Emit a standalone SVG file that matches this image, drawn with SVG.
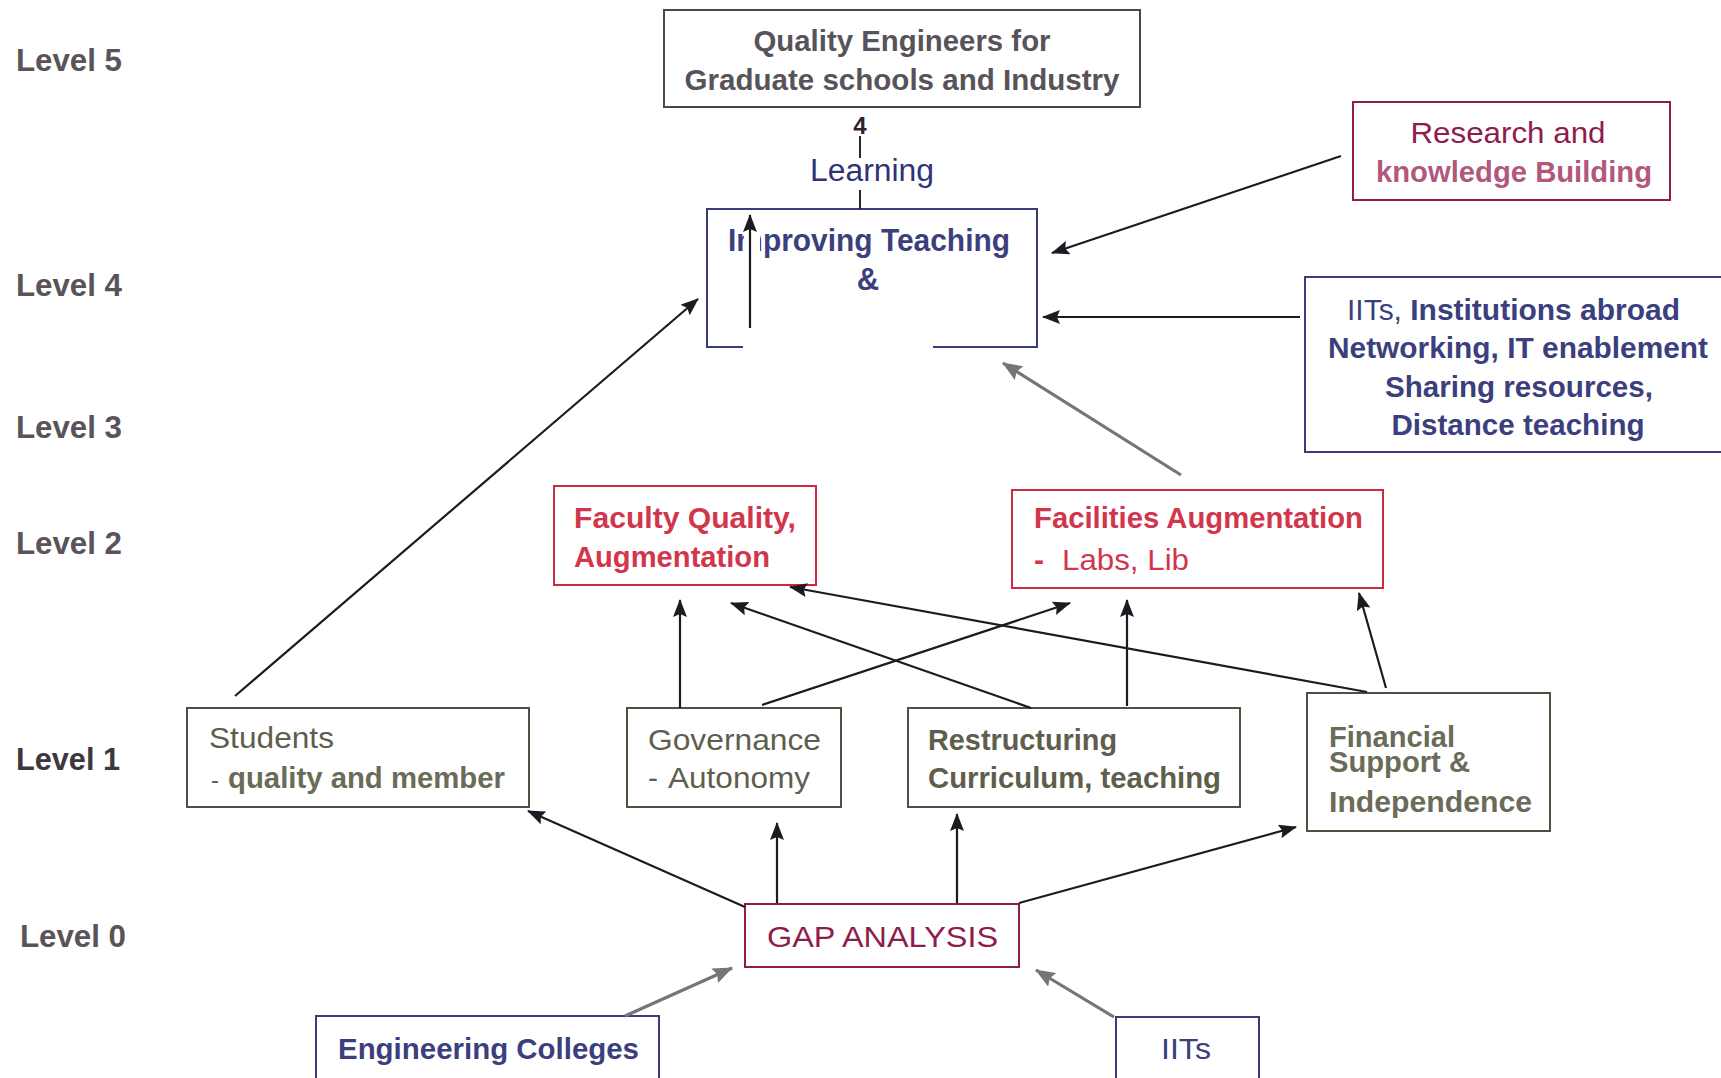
<svg xmlns="http://www.w3.org/2000/svg" width="1721" height="1078" viewBox="0 0 1721 1078">
<defs>
<style>
text{font-family:"Liberation Sans",Arial,sans-serif;font-size:30px}
.b{font-weight:bold}
.lvl{font-weight:bold;font-size:31px;fill:#5a535a}
.box{fill:none;stroke-width:2}
.navy{fill:#3c3f7e}
.olive{fill:#5e5e4c}
.red{fill:#d2364c}
.maroon{fill:#8e1c4c}
.arr{stroke:#1e1a22;stroke-width:2.2;fill:none;marker-end:url(#ah)}
.garr{stroke:#77737a;stroke-width:3.2;fill:none;marker-end:url(#gh)}
</style>
<marker id="ah" markerUnits="userSpaceOnUse" markerWidth="18" markerHeight="14" refX="17" refY="7" orient="auto">
<path d="M0,0 L18,7 L0,14 L3,7 z" fill="#1e1a22"/>
</marker>
<marker id="gh" markerUnits="userSpaceOnUse" markerWidth="20" markerHeight="16" refX="19" refY="8" orient="auto">
<path d="M0,0 L20,8 L0,16 L3,8 z" fill="#77737a"/>
</marker>
</defs>
<rect width="1721" height="1078" fill="#ffffff"/>

<g id="levels">
<text class="lvl" x="16" y="71" textLength="106" lengthAdjust="spacingAndGlyphs">Level 5</text>
<text class="lvl" x="16" y="296" textLength="106" lengthAdjust="spacingAndGlyphs">Level 4</text>
<text class="lvl" x="16" y="438" textLength="106" lengthAdjust="spacingAndGlyphs">Level 3</text>
<text class="lvl" x="16" y="554" textLength="106" lengthAdjust="spacingAndGlyphs">Level 2</text>
<text class="lvl" x="16" y="770" textLength="104" lengthAdjust="spacingAndGlyphs" style="fill:#3e383e">Level 1</text>
<text class="lvl" x="20" y="947" textLength="106" lengthAdjust="spacingAndGlyphs">Level 0</text>
</g>

<g id="quality-engineers">
<rect class="box" x="664" y="10" width="476" height="97" stroke="#4a474c"/>
<text class="b" x="902" y="51" text-anchor="middle" fill="#58535a" textLength="297" lengthAdjust="spacingAndGlyphs">Quality Engineers for</text>
<text class="b" x="902" y="90" text-anchor="middle" fill="#58535a" textLength="435" lengthAdjust="spacingAndGlyphs">Graduate schools and Industry</text>
</g>

<g id="learning-label">
<text class="b" x="860" y="134" text-anchor="middle" fill="#2a262c" style="font-size:24px">4</text>
<text class="navy" x="872" y="181" text-anchor="middle" textLength="124" lengthAdjust="spacingAndGlyphs" style="fill:#2f3378;font-size:31px">Learning</text>
</g>

<g id="improving-teaching">
<path class="box" d="M743,347 H707 V209 H1037 V347 H933" stroke="#3a3d7c"/>
<text class="b navy" x="728" y="251" textLength="282" lengthAdjust="spacingAndGlyphs" style="font-size:31px">Improving Teaching</text>
<text class="b navy" x="868" y="290" text-anchor="middle" style="font-size:31px">&amp;</text>
</g>

<g id="research">
<rect class="box" x="1353" y="102" width="317" height="98" stroke="#8e1c4c"/>
<text class="maroon" x="1508" y="143" text-anchor="middle" textLength="195" lengthAdjust="spacingAndGlyphs">Research and</text>
<text class="b" x="1514" y="182" text-anchor="middle" fill="#b0587e" textLength="276" lengthAdjust="spacingAndGlyphs">knowledge Building</text>
</g>

<g id="iits-networking">
<path class="box" d="M1721,277 H1305 V452 H1721" stroke="#3a3d7c"/>
<text class="navy" x="1347" y="320" textLength="333" lengthAdjust="spacingAndGlyphs">IITs, <tspan class="b">Institutions abroad</tspan></text>
<text class="b navy" x="1518" y="358" text-anchor="middle" textLength="380" lengthAdjust="spacingAndGlyphs">Networking, IT enablement</text>
<text class="b navy" x="1519" y="397" text-anchor="middle" textLength="268" lengthAdjust="spacingAndGlyphs">Sharing resources,</text>
<text class="b navy" x="1518" y="435" text-anchor="middle" textLength="253" lengthAdjust="spacingAndGlyphs">Distance teaching</text>
</g>

<g id="faculty-quality">
<rect class="box" x="554" y="486" width="262" height="99" stroke="#cc2a3e"/>
<text class="b red" x="574" y="528" textLength="222" lengthAdjust="spacingAndGlyphs">Faculty Quality,</text>
<text class="b red" x="574" y="567" textLength="196" lengthAdjust="spacingAndGlyphs">Augmentation</text>
</g>

<g id="facilities">
<rect class="box" x="1012" y="490" width="371" height="98" stroke="#cc2a3e"/>
<text class="b red" x="1034" y="528" textLength="329" lengthAdjust="spacingAndGlyphs">Facilities Augmentation</text>
<text class="b red" x="1034" y="570">-</text>
<text class="red" x="1062" y="570" textLength="127" lengthAdjust="spacingAndGlyphs">Labs, Lib</text>
</g>

<g id="students">
<rect class="box" x="187" y="708" width="342" height="99" stroke="#4e5040"/>
<text class="olive" x="209" y="748" textLength="125" lengthAdjust="spacingAndGlyphs">Students</text>
<text class="olive" x="211" y="788" style="font-size:24px">-</text>
<text class="b" x="228" y="788" fill="#6b6b5a" textLength="277" lengthAdjust="spacingAndGlyphs">quality and member</text>
</g>

<g id="governance">
<rect class="box" x="627" y="708" width="214" height="99" stroke="#4e5040"/>
<text class="olive" x="648" y="750" textLength="173" lengthAdjust="spacingAndGlyphs">Governance</text>
<text class="olive" x="648" y="788">-</text>
<text class="olive" x="668" y="788" textLength="142" lengthAdjust="spacingAndGlyphs">Autonomy</text>
</g>

<g id="restructuring">
<rect class="box" x="908" y="708" width="332" height="99" stroke="#4e5040"/>
<text class="b olive" x="928" y="750" textLength="189" lengthAdjust="spacingAndGlyphs">Restructuring</text>
<text class="b olive" x="928" y="788" textLength="293" lengthAdjust="spacingAndGlyphs">Curriculum, teaching</text>
</g>

<g id="financial">
<rect class="box" x="1307" y="693" width="243" height="138" stroke="#4e5040"/>
<text class="b" x="1329" y="747" fill="#6b6b5a" textLength="126" lengthAdjust="spacingAndGlyphs">Financial</text>
<text class="b" x="1329" y="772" fill="#6b6b5a" textLength="141" lengthAdjust="spacingAndGlyphs">Support &amp;</text>
<text class="b" x="1329" y="812" fill="#6b6b5a" textLength="203" lengthAdjust="spacingAndGlyphs">Independence</text>
</g>

<g id="gap-analysis">
<rect class="box" x="745" y="904" width="274" height="63" stroke="#8e1c4c"/>
<text class="maroon" x="767" y="947" textLength="231" lengthAdjust="spacingAndGlyphs">GAP ANALYSIS</text>
</g>

<g id="engineering-colleges">
<path class="box" d="M316,1078 V1016 H659 V1078" stroke="#3a3d7c"/>
<text class="b navy" x="338" y="1059" textLength="301" lengthAdjust="spacingAndGlyphs">Engineering Colleges</text>
</g>

<g id="iits">
<path class="box" d="M1116,1078 V1017 H1259 V1078" stroke="#3a3d7c"/>
<text class="navy" x="1186" y="1059" text-anchor="middle" textLength="50" lengthAdjust="spacingAndGlyphs">IITs</text>
</g>

<g id="connectors">
<line x1="860" y1="136" x2="860" y2="158" stroke="#2a262c" stroke-width="2"/>
<line x1="860" y1="190" x2="860" y2="209" stroke="#2a262c" stroke-width="2"/>
<line x1="752" y1="220" x2="752" y2="256" stroke="#ffffff" stroke-width="16"/>
<line class="arr" x1="750" y1="328" x2="750" y2="215"/>
<line class="arr" x1="1341" y1="156" x2="1052" y2="253"/>
<line class="arr" x1="1300" y1="317" x2="1043" y2="317"/>
<line class="arr" x1="235" y1="696" x2="698" y2="299"/>
<line class="garr" x1="1181" y1="475" x2="1003" y2="363"/>
<line class="arr" x1="680" y1="708" x2="680" y2="600"/>
<line class="arr" x1="1031" y1="708" x2="731" y2="603"/>
<line class="arr" x1="762" y1="705" x2="1070" y2="603"/>
<line class="arr" x1="1127" y1="706" x2="1127" y2="600"/>
<line class="arr" x1="1367" y1="692" x2="790" y2="587"/>
<line class="arr" x1="1386" y1="688" x2="1359" y2="593"/>
<line class="arr" x1="745" y1="907" x2="528" y2="811"/>
<line class="arr" x1="777" y1="903" x2="777" y2="823"/>
<line class="arr" x1="957" y1="903" x2="957" y2="814"/>
<line class="arr" x1="1019" y1="903" x2="1296" y2="827"/>
<line class="garr" x1="625" y1="1016" x2="732" y2="968"/>
<line class="garr" x1="1114" y1="1017" x2="1036" y2="970"/>
</g>
</svg>
